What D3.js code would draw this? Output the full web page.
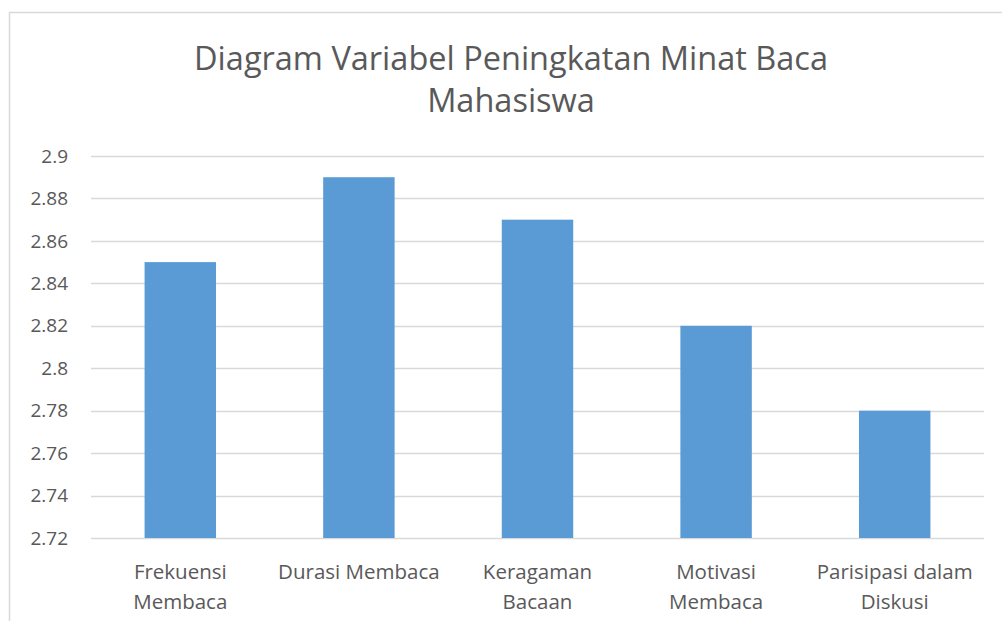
<!DOCTYPE html>
<html>
<head>
<meta charset="utf-8">
<script src="https://cdn.jsdelivr.net/npm/d3@7"></script>
<style>
  body { margin: 0; background: #fff; }
  svg text { font-family: "Open Sans", "Liberation Sans", sans-serif; fill: #595959; }
</style>
</head>
<body>
<svg width="1002" height="621"></svg>
<script>
// data
var categories = [["Frekuensi", "Membaca"], ["Durasi Membaca"], ["Keragaman", "Bacaan"], ["Motivasi", "Membaca"], ["Parisipasi dalam", "Diskusi"]];
var values = [2.85, 2.89, 2.87, 2.82, 2.78];
var tickValues = [2.72, 2.74, 2.76, 2.78, 2.8, 2.82, 2.84, 2.86, 2.88, 2.9];
var titleLines = ["Diagram Variabel Peningkatan Minat Baca", "Mahasiswa"];

var svg = d3.select("svg");

// chart border
svg.append("rect")
   .attr("x", 9.5).attr("y", 12.5)
   .attr("width", 1010).attr("height", 640)
   .attr("fill", "none")
   .attr("stroke", "#d9d9d9")
   .attr("stroke-width", 1.5);

var plot = {left: 91, right: 984, top: 156, bottom: 538};

var x = d3.scaleBand()
          .domain(d3.range(categories.length))
          .range([plot.left, plot.right])
          .paddingInner(0.6)
          .paddingOuter(0.3);

var y = d3.scaleLinear()
          .domain([2.72, 2.9])
          .range([plot.bottom, plot.top]);

// gridlines
svg.append("g")
   .selectAll("line")
   .data(tickValues)
   .enter()
   .append("line")
   .attr("x1", plot.left).attr("x2", plot.right)
   .attr("y1", function(d){ return Math.round(y(d)) + 0.5; })
   .attr("y2", function(d){ return Math.round(y(d)) + 0.5; })
   .attr("stroke", "#d9d9d9")
   .attr("stroke-width", 1.3);

// y axis labels
svg.append("g")
   .selectAll("text")
   .data(tickValues)
   .enter()
   .append("text")
   .attr("x", 68)
   .attr("y", function(d){ return y(d); })
   .attr("dy", "0.35em")
   .attr("text-anchor", "end")
   .style("font-size", "19px")
   .text(function(d){ return d3.format("")(+d.toFixed(2)); });

// bars
svg.append("g")
   .selectAll("rect")
   .data(values)
   .enter()
   .append("rect")
   .attr("x", function(d,i){ return x(i); })
   .attr("width", x.bandwidth())
   .attr("y", function(d){ return y(d); })
   .attr("height", function(d){ return y(2.72) - y(d); })
   .attr("fill", "#5b9bd5");

// category labels
var labels = svg.append("g")
   .selectAll("text")
   .data(categories)
   .enter()
   .append("text")
   .attr("text-anchor", "middle")
   .style("font-size", "20.5px");

labels.selectAll("tspan")
      .data(function(d,i){ return d.map(function(t){ return {t:t, i:i}; }); })
      .enter()
      .append("tspan")
      .attr("x", function(d){ return x(d.i) + x.bandwidth()/2; })
      .attr("y", function(d,j){ return 579 + j*30; })
      .text(function(d){ return d.t; });

// title
svg.append("g")
   .selectAll("text")
   .data(titleLines)
   .enter()
   .append("text")
   .attr("x", 511)
   .attr("y", function(d,i){ return 70 + i*42; })
   .attr("text-anchor", "middle")
   .style("font-size", "32.5px")
   .text(function(d){ return d; });
</script>
</body>
</html>
